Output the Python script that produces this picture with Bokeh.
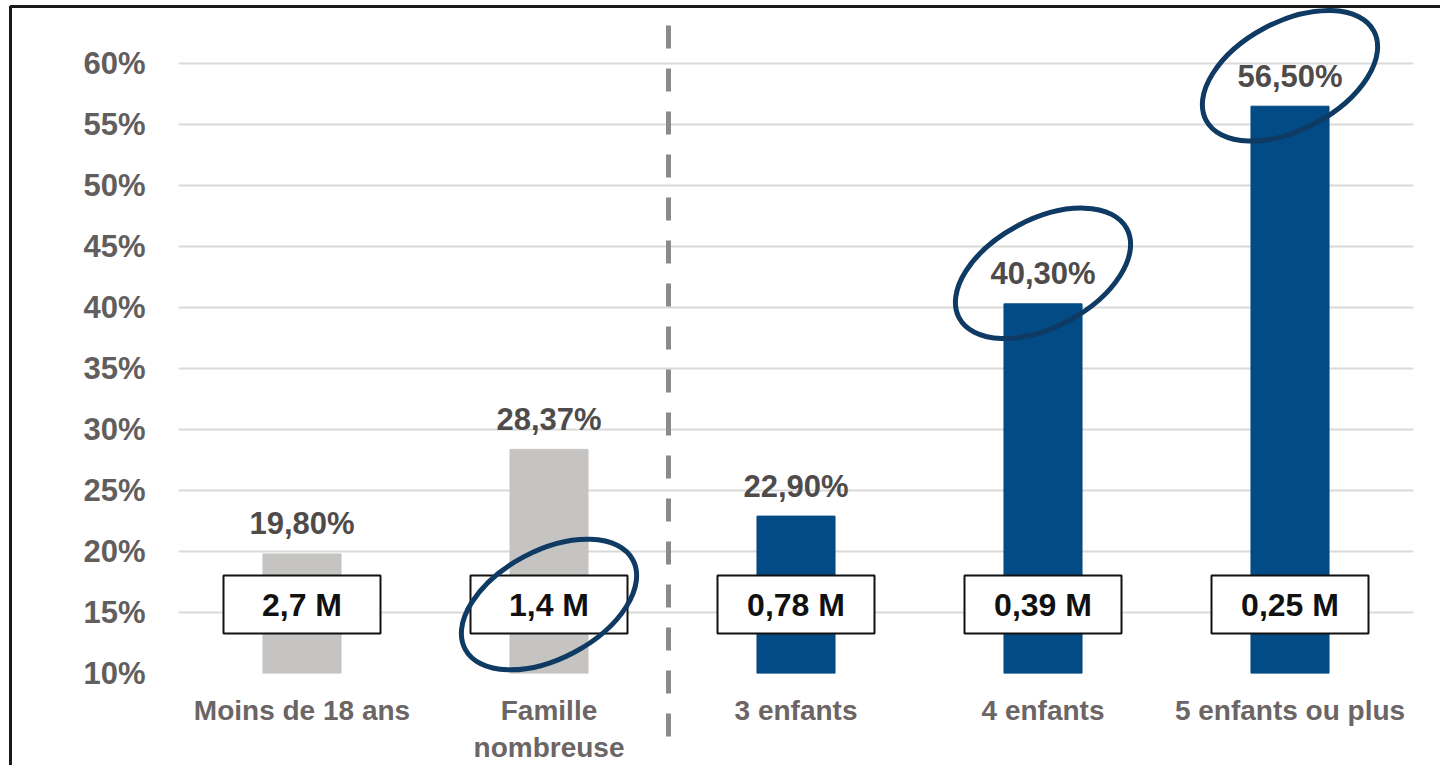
import math
from bokeh.plotting import figure
from bokeh.models import Range1d, FactorRange, FixedTicker
from bokeh.core.properties import value
from bokeh.embed import file_html
from bokeh.resources import INLINE

# ---- data ----
categories = ["Moins de 18 ans", "Famille\nnombreuse", "3 enfants", "4 enfants", "5 enfants ou plus"]
percent_values = [19.80, 28.37, 22.90, 40.30, 56.50]
percent_labels = ["19,80%", "28,37%", "22,90%", "40,30%", "56,50%"]
population_labels = ["2,7 M", "1,4 M", "0,78 M", "0,39 M", "0,25 M"]
y_ticks = [10, 15, 20, 25, 30, 35, 40, 45, 50, 55, 60]
y_tick_labels = {t: f"{t}%" for t in y_ticks}
highlight_box_cats = ["Famille\nnombreuse"]
highlight_value_cats = ["4 enfants", "5 enfants ou plus"]
separator_after = 2  # dashed line after the 2nd category

# ---- style / layout ----
GRAY = "#c5c4c2"
BLUE = "#034b84"
bar_colors = [GRAY, GRAY, BLUE, BLUE, BLUE]
FONT = value("Liberation Sans")
W, H = 1440, 765
FRAME_L, FRAME_R, FRAME_B = 178, 1413, 673
PX_PER_UNIT = 12.2
Y_MIN = 10
Y_MAX = Y_MIN + FRAME_B / PX_PER_UNIT
PX_PER_CAT = (FRAME_R - FRAME_L) / len(categories)
BOX_Y = 15.65
ELL_DY = 2.5


def y_of(px):
    return Y_MIN + (FRAME_B - px) / PX_PER_UNIT


def x_of(px):
    return (px - FRAME_L) / PX_PER_CAT


p = figure(x_range=FactorRange(*categories, range_padding=0),
           y_range=Range1d(Y_MIN, Y_MAX),
           width=W, height=H, output_backend="svg", toolbar_location=None,
           min_border_left=FRAME_L, min_border_right=W - FRAME_R, min_border_top=0,
           min_border_bottom=H - FRAME_B)

p.vbar(x=categories, top=percent_values, bottom=Y_MIN, width=0.316, color=bar_colors)

p.text(x=categories, y=percent_values, text=percent_labels, y_offset=-30,
       text_align="center", text_baseline="alphabetic", text_font=FONT,
       text_font_style="bold", text_font_size="31px", text_color="#4f4b4b")

p.rect(x=categories, y=BOX_Y, width=157, height=58, width_units="screen", height_units="screen",
       fill_color="white", line_color="#111111", line_width=2)
p.text(x=categories, y=BOX_Y, text=population_labels, text_align="center", text_baseline="middle",
       text_font=FONT, text_font_style="bold", text_font_size="32px", text_color="#111111")

# highlight ellipses
ell_x = highlight_box_cats + highlight_value_cats
ell_y = [BOX_Y] * len(highlight_box_cats) + [percent_values[categories.index(c)] + ELL_DY for c in highlight_value_cats]
p.ellipse(x=ell_x, y=ell_y, width=190, height=108, width_units="screen", height_units="screen",
          angle=math.radians(28), fill_color=None, line_color="#0e3a63", line_width=5)

# dashed separator
sep_x = float(separator_after) - 4 / PX_PER_CAT
p.segment(x0=[sep_x], x1=[sep_x], y0=[y_of(25)], y1=[y_of(750)],
          line_color="#8a8a8a", line_width=5, line_dash="23 20", level="overlay")

# outer border (left and top edges)
p.line(x=[x_of(10), x_of(10), x_of(1500)], y=[y_of(900), y_of(6), y_of(6)],
       line_color="#1a1a1a", line_width=3, level="overlay")

# axes
p.yaxis.ticker = FixedTicker(ticks=y_ticks)
p.yaxis.major_label_overrides = y_tick_labels
p.yaxis.major_label_text_font = "Liberation Sans"
p.yaxis.major_label_text_font_style = "bold"
p.yaxis.major_label_text_font_size = "31px"
p.yaxis.major_label_text_color = "#625e5e"
p.yaxis.major_label_standoff = 27
p.yaxis.axis_line_color = None
p.yaxis.major_tick_line_color = None
p.yaxis.minor_tick_line_color = None

p.xaxis.major_label_text_font = "Liberation Sans"
p.xaxis.major_label_text_font_style = "bold"
p.xaxis.major_label_text_font_size = "28px"
p.xaxis.major_label_text_color = "#6b6565"
p.xaxis.major_label_standoff = 15
p.xaxis.axis_line_color = None
p.xaxis.major_tick_line_color = None
p.xaxis.minor_tick_line_color = None

p.xgrid.grid_line_color = None
p.ygrid.grid_line_color = "#d9d9d9"
p.ygrid.grid_line_width = 2
p.outline_line_color = None

open("out.html", "w").write(file_html(p, INLINE))
